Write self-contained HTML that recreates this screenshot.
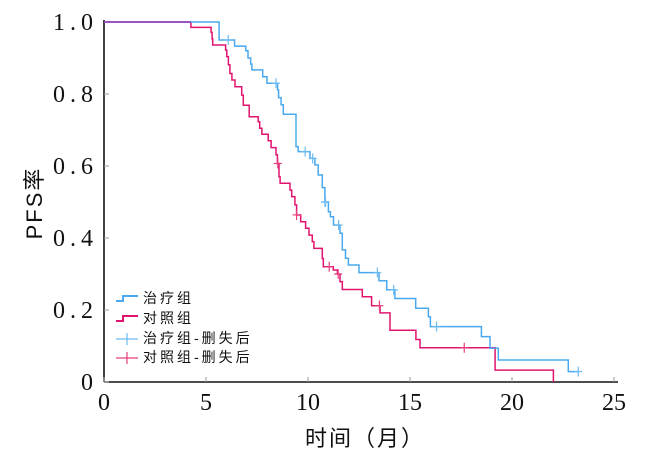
<!DOCTYPE html>
<html><head><meta charset="utf-8"><style>
html,body{margin:0;padding:0;background:#fff;}
svg{display:block;}
.tk{font-family:"Liberation Serif","Noto Serif CJK SC",serif;font-size:24px;fill:#111;}
.lg{font-family:"Liberation Sans","Noto Sans CJK SC",sans-serif;font-size:14px;fill:#111;letter-spacing:3px;}
.ax{font-family:"Liberation Sans","Noto Sans CJK SC",sans-serif;font-size:22px;fill:#111;letter-spacing:2px;}
</style></head><body>
<svg id="chart" width="646" height="463" viewBox="0 0 646 463">
<g id="axes"></g>
<g id="series"></g>
<g id="legend">
  <path d="M116,301 h7 v-5 h15" fill="none" stroke="#4aa8ee" stroke-width="2"/>
  <text class="lg" x="143" y="303">治疗组</text>
  <path d="M116,321 h7 v-5 h15" fill="none" stroke="#e0146e" stroke-width="2"/>
  <text class="lg" x="143" y="323">对照组</text>
  <path d="M116,339 h22 M127,333 v12" fill="none" stroke="#6cbcf2" stroke-width="1.2"/>
  <text class="lg" x="143" y="343">治疗组-删失后</text>
  <path d="M116,358 h22 M127,352 v12" fill="none" stroke="#e8407e" stroke-width="1.2"/>
  <text class="lg" x="143" y="362">对照组-删失后</text>
</g>
<text class="ax" x="365" y="446" text-anchor="middle">时间（月）</text>
<text class="ax" transform="translate(42,203) rotate(-90)" text-anchor="middle">PFS率</text>
</svg>
<script>
const xTicks=[0,5,10,15,20,25];
const yTicks=[0,0.2,0.4,0.6,0.8,1.0];
const yTickLabels=["0","0.2","0.4","0.6","0.8","1.0"];
const treatTimes=[5.64,6.4,6.95,7.06,7.19,7.25,7.78,7.99,8.51,8.56,8.68,8.79,9.41,9.52,10.1,10.34,10.5,10.7,10.83,11.0,11.1,11.25,11.57,11.68,11.84,11.98,12.5,13.48,13.86,14.26,15.28,15.9,16.0,18.5,18.92,19.33,22.76];
const treatSurv=[0.95,0.933,0.92,0.90,0.883,0.867,0.848,0.83,0.811,0.79,0.77,0.744,0.654,0.64,0.621,0.603,0.575,0.54,0.50,0.473,0.459,0.436,0.413,0.367,0.344,0.325,0.304,0.281,0.256,0.232,0.205,0.181,0.154,0.126,0.094,0.061,0.029];
const treatEnd=23.25;
const treatCensor=[6.09,8.43,9.86,10.23,10.83,10.86,11.5,13.4,14.2,16.3,23.25];
const ctrlTimes=[4.26,5.25,5.3,5.33,5.96,6.02,6.1,6.17,6.27,6.42,6.75,6.83,7.12,7.56,7.63,7.74,8.05,8.19,8.43,8.5,8.58,8.63,9.12,9.2,9.36,9.44,9.64,9.88,10.05,10.21,10.29,10.7,10.75,11.24,11.44,11.57,11.68,12.66,13.12,13.53,14.02,15.29,15.49,19.17,22.03];
const ctrlSurv=[0.985,0.971,0.953,0.936,0.922,0.904,0.881,0.857,0.839,0.82,0.797,0.769,0.737,0.723,0.705,0.688,0.67,0.651,0.631,0.607,0.57,0.552,0.533,0.515,0.492,0.464,0.445,0.427,0.408,0.39,0.371,0.343,0.32,0.311,0.3,0.279,0.257,0.237,0.212,0.192,0.144,0.118,0.095,0.033,0];
const ctrlEnd=22.03;
const ctrlCensor=[8.52,9.44,11.04,11.48,13.5,17.66];

const X0=104,X1=614,Y0=382,Y1=22;
const xs=t=>X0+(t/25)*(X1-X0);
const ys=v=>Y0-v*(Y0-Y1);
const NS="http://www.w3.org/2000/svg";
function mk(tag,attrs,parent){const e=document.createElementNS(NS,tag);for(const k in attrs)e.setAttribute(k,attrs[k]);parent.appendChild(e);return e;}
const axes=document.getElementById('axes'),ser=document.getElementById('series');
let a=mk('line',{x1:X0,y1:Y1-2,x2:X0,y2:Y0,stroke:'#111','stroke-width':1.6},axes);


a=mk('line',{x1:X0,y1:Y0,x2:X1+4,y2:Y0,stroke:'#111','stroke-width':1.6},axes);


xTicks.forEach(t=>{
  const l=mk('line',{x1:xs(t),y1:Y0,x2:xs(t),y2:Y0-5,stroke:'#999','stroke-width':1},axes);
  
  
  const tx=mk('text',{x:xs(t),y:Y0+28,'text-anchor':'middle',class:'tk'},axes);
  tx.textContent=String(t);
  
  
});
yTicks.forEach((v,i)=>{
  const l=mk('line',{x1:X0,y1:ys(v),x2:X0+5,y2:ys(v),stroke:'#999','stroke-width':1},axes);
  
  
  const tx=mk('text',{x:98,y:ys(v)+8,'text-anchor':'end',class:'tk','letter-spacing':'5'},axes);
  tx.textContent=yTickLabels[i];
  
  
});
function stepPath(times,surv,end){
  let d='M'+xs(0)+','+ys(1);let cur=1;
  times.forEach((t,i)=>{d+=' H'+xs(t).toFixed(1)+' V'+ys(surv[i]).toFixed(1);cur=surv[i];});
  d+=' H'+xs(end).toFixed(1);return d;
}
function survAt(times,surv,t){let s=1;times.forEach((tt,i)=>{if(tt<=t)s=surv[i];});return s;}
const p1=mk('path',{d:stepPath(ctrlTimes,ctrlSurv,ctrlEnd),fill:'none',stroke:'#e0146e','stroke-width':1.5},ser);


const p2=mk('path',{d:stepPath(treatTimes,treatSurv,treatEnd),fill:'none',stroke:'#4aa8ee','stroke-width':1.5},ser);


mk('line',{x1:xs(0),y1:ys(1),x2:xs(4.26),y2:ys(1),stroke:'#9a3fc0','stroke-width':1.5},ser);
function censors(arr,times,surv,col,name){
  arr.forEach(t=>{const x=xs(t),y=ys(survAt(times,surv,t));
    const c=mk('path',{d:`M${x-4},${y} H${x+4} M${x},${y-5} V${y+5}`,stroke:col,'stroke-width':1.2,fill:'none'},ser);
    
    });
}
censors(treatCensor,treatTimes,treatSurv,'#6cbcf2','treatment-censor-mark');
censors(ctrlCensor,ctrlTimes,ctrlSurv,'#e8407e','control-censor-mark');
</script>
</body></html>
